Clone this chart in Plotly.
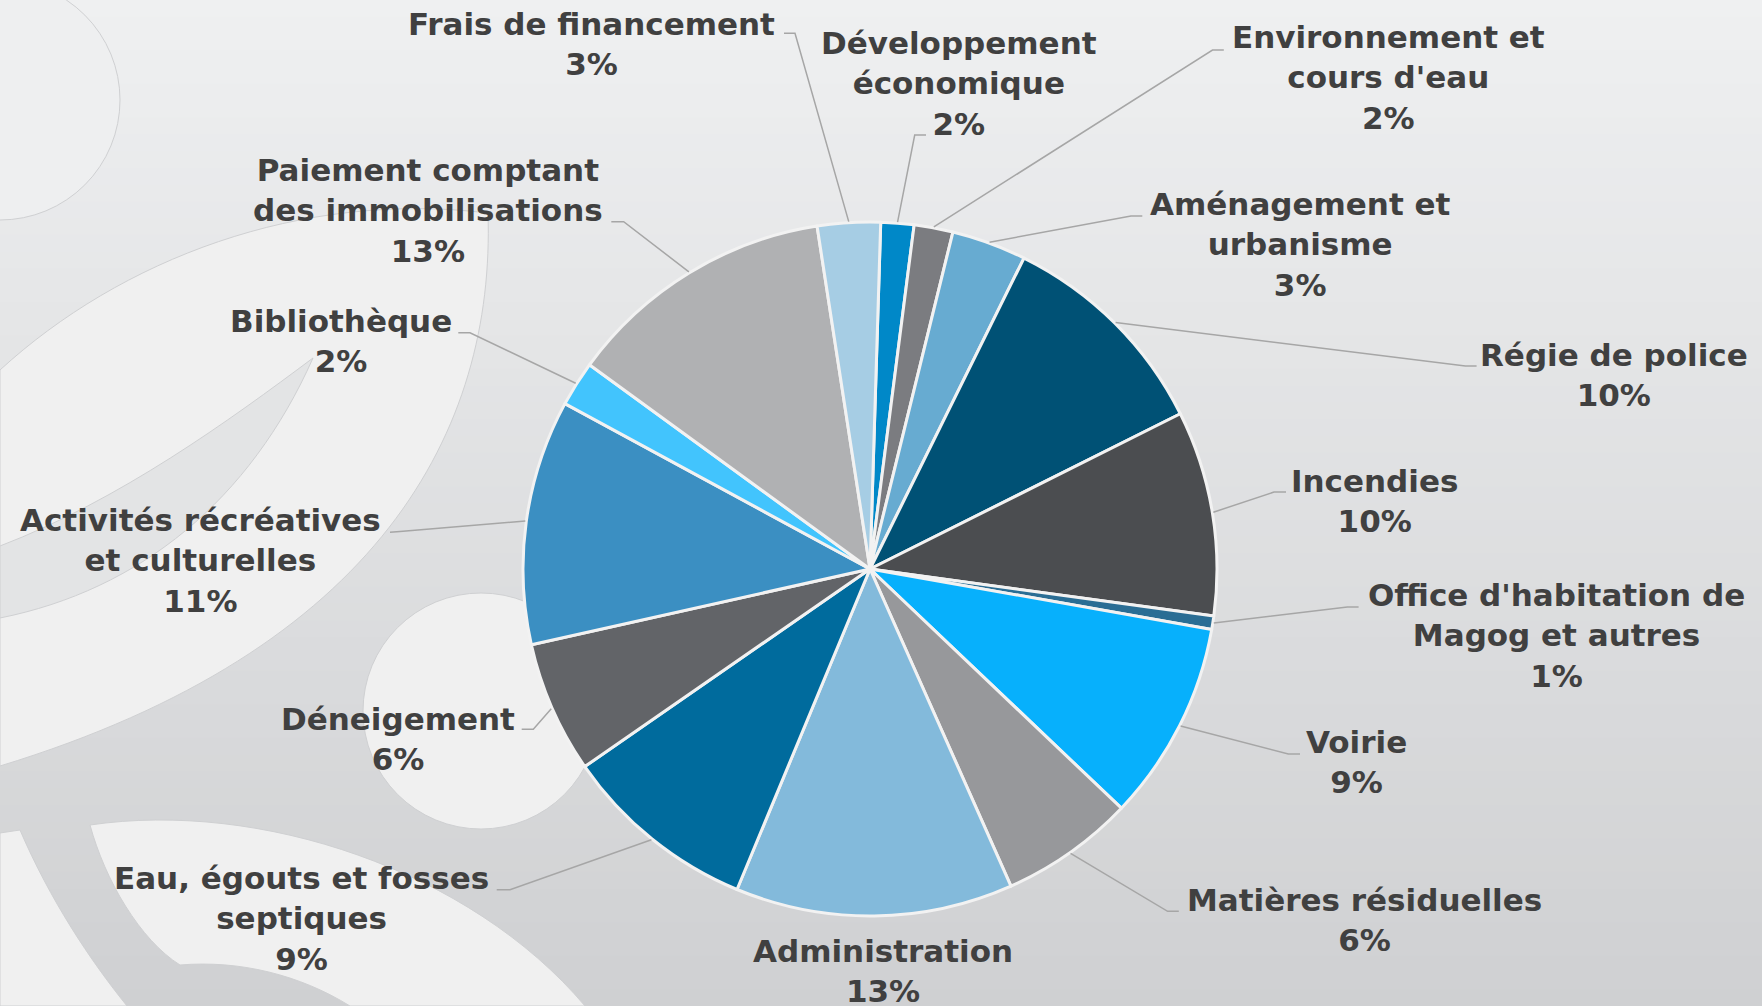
import plotly.graph_objects as go
import math

# ---------------- data ----------------
categories = [
    "Développement économique", "Environnement et cours d'eau", "Aménagement et urbanisme",
    "Régie de police", "Incendies", "Office d'habitation de Magog et autres", "Voirie",
    "Matières résiduelles", "Administration", "Eau, égouts et fosses septiques",
    "Déneigement", "Activités récréatives et culturelles", "Bibliothèque",
    "Paiement comptant des immobilisations", "Frais de financement",
]
display_labels = [
    "Développement<br>économique", "Environnement et<br>cours d'eau", "Aménagement et<br>urbanisme",
    "Régie de police", "Incendies", "Office d'habitation de<br>Magog et autres", "Voirie",
    "Matières résiduelles", "Administration", "Eau, égouts et fosses<br>septiques",
    "Déneigement", "Activités récréatives<br>et culturelles", "Bibliothèque",
    "Paiement comptant<br>des immobilisations", "Frais de financement",
]
shares = [1.54, 1.81, 3.48, 10.30, 9.55, 0.62, 9.32, 6.24, 12.92, 9.10, 6.14, 11.41, 2.11, 12.55, 2.93]

# ---------------- styles / layout ----------------
colors = ["#0088c8", "#7b7c80", "#67abd1", "#005175", "#4b4d50", "#2a6d94", "#07b0fc",
          "#97989b", "#83badb", "#006b9d", "#626468", "#3b8fc2", "#42c4fd", "#b0b1b3", "#a6cde4"]

W, H = 1762, 1006
CX, CY, R = 870, 569, 347
ROTATION = 1.77
FONT = dict(family="DejaVu Sans, Verdana, sans-serif", size=31, color="#404040", weight="bold")

# label block centres (px) and leader elbow/end points (px)
label_pos = [(959, 83.5), (1388, 78), (1300.5, 245), (1614, 374.5), (1374, 501), (1556.6, 635),
             (1356.7, 762), (1364.8, 920), (883, 971), (301.7, 918), (398, 739),
             (200.7, 560.5), (341.3, 341), (428, 210), (591.6, 44)]
leaders = [((914.7, 135), (926, 135)), ((1212.5, 50), (1223.8, 50)), ((1131, 216), (1142.3, 216)),
           ((1465.4, 366), (1476.6, 366)), ((1274, 492), (1286, 492)), ((1347.4, 607), (1358.6, 607)),
           ((1288.3, 754), (1300, 754)), ((1167.6, 911.3), (1178.8, 911.3)), None,
           ((510, 889.7), (496.7, 889.7)), ((533.3, 729.3), (521.7, 729.3)),
           ((400, 531.5), (390, 532.3)), ((470, 332.7), (458.3, 332.7)),
           ((623.7, 221.7), (611.3, 221.7)), ((795, 33.3), (784, 33.3))]


def px(x):
    return x / W


def py(y):
    return 1 - y / H


fig = go.Figure()
fig.add_trace(go.Pie(
    labels=categories, values=shares, sort=False, direction="clockwise", rotation=ROTATION,
    marker=dict(colors=colors, line=dict(color="#f2f2f2", width=3)),
    textinfo="none", hoverinfo="label+percent", showlegend=False,
    domain=dict(x=[px(CX - R), px(CX + R)], y=[py(CY + R), py(CY - R)]),
))

shapes = []
# background gradient (vertical)
top_c, bot_c = (239, 240, 241), (207, 208, 210)
N = 60
for i in range(N):
    t = (i + 0.5) / N
    c = tuple(round(top_c[k] + (bot_c[k] - top_c[k]) * t) for k in range(3))
    shapes.append(dict(type="rect", xref="paper", yref="paper", layer="below",
                       x0=0, x1=1, y0=py((i + 1) * H / N + 1), y1=py(i * H / N),
                       fillcolor="rgb(%d,%d,%d)" % c, line=dict(width=0)))


def path_px(d_pts):
    out = []
    for item in d_pts:
        cmd = item[0]
        if cmd == "Z":
            out.append("Z")
            continue
        coords = item[1:]
        conv = " ".join("%.5f,%.5f" % (px(coords[j]), py(coords[j + 1])) for j in range(0, len(coords), 2))
        out.append(cmd + " " + conv)
    return " ".join(out)


LIGHT = "#f0f0f0"
EDGE = dict(color="#cfd0d2", width=1)
deco = [
    ("circle", (-120, -20, 120, 220), "#eeeff0"),
    ("path", [("M", 0, 370), ("C", 120, 260, 300, 190, 488, 213),
              ("C", 495, 430, 380, 650, 0, 766), ("Z",)], LIGHT),
    ("path", [("M", 313, 358), ("C", 230, 420, 120, 500, 0, 546), ("L", 0, 618),
              ("C", 140, 590, 250, 500, 313, 358), ("Z",)], "#e3e4e5"),
    ("circle", (481 - 118, 711 - 118, 481 + 118, 711 + 118), LIGHT),
    ("path", [("M", 90, 825), ("C", 260, 800, 470, 870, 585, 1006), ("L", 350, 1006),
              ("C", 300, 975, 240, 960, 180, 965), ("C", 140, 940, 105, 880, 90, 825), ("Z",)], LIGHT),
    ("path", [("M", 0, 833), ("L", 20, 830), ("C", 50, 900, 90, 960, 127, 1006), ("L", 0, 1006), ("Z",)], LIGHT),
]
for kind, geo, col in deco:
    if kind == "circle":
        x0, y0, x1, y1 = geo
        shapes.append(dict(type="circle", xref="paper", yref="paper", layer="below",
                           x0=px(x0), x1=px(x1), y0=py(y1), y1=py(y0),
                           fillcolor=col, line=EDGE))
    else:
        shapes.append(dict(type="path", xref="paper", yref="paper", layer="below",
                           path=path_px(geo), fillcolor=col, line=EDGE))

# leader lines from slice mid-angle on the rim
total = sum(shares)
cum = 0.0
annotations = []
for i, v in enumerate(shares):
    a0 = ROTATION + cum / total * 360
    cum += v
    a1 = ROTATION + cum / total * 360
    mid = math.radians((a0 + a1) / 2)
    sx, sy = CX + (R + 1) * math.sin(mid), CY - (R + 1) * math.cos(mid)
    if leaders[i] is not None:
        (ex, ey), (tx, ty) = leaders[i]
        shapes.append(dict(type="path", xref="paper", yref="paper", layer="above",
                           path="M %.5f,%.5f L %.5f,%.5f L %.5f,%.5f" % (px(sx), py(sy), px(ex), py(ey), px(tx), py(ty)),
                           line=dict(color="#a6a6a6", width=1.5)))
    pct = round(v / total * 100)
    lx, ly = label_pos[i]
    annotations.append(dict(xref="paper", yref="paper", x=px(lx), y=py(ly), xanchor="center", yanchor="middle",
                            text="%s<br>%d%%" % (display_labels[i], pct), showarrow=False,
                            align="center", font=FONT))

fig.update_layout(
    width=W, height=H, autosize=False,
    margin=dict(l=0, r=0, t=0, b=0),
    paper_bgcolor="rgb(239,240,241)", plot_bgcolor="rgba(0,0,0,0)",
    shapes=shapes, annotations=annotations,
)

fig.write_html("out.html", config={"displayModeBar": False},
               post_script="document.body.style.margin='0';document.body.style.overflow='hidden';")
